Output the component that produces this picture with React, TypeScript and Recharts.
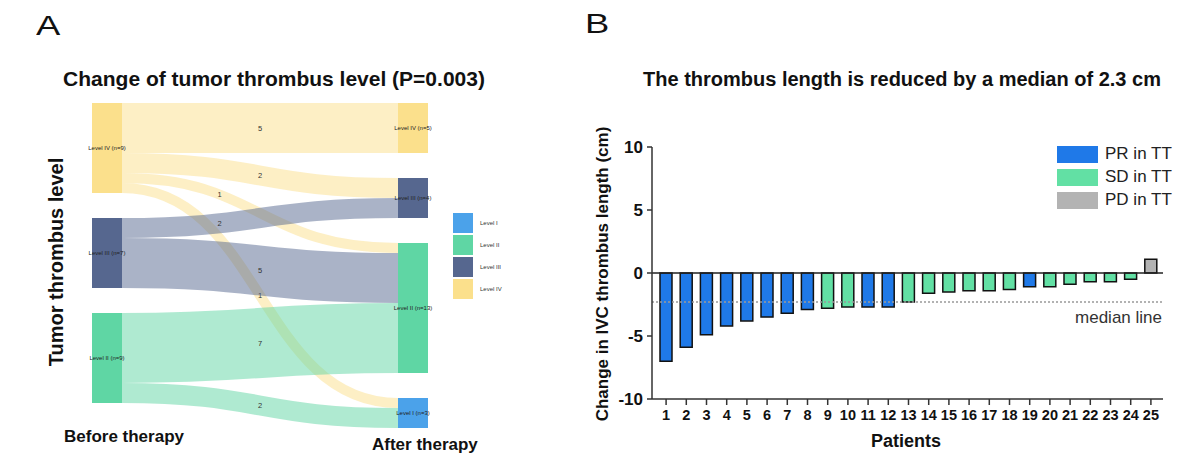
import React from 'react'
import {
  Sankey, BarChart, Bar, XAxis, YAxis, Cell, ReferenceLine,
} from 'recharts'

// panel A: tumour thrombus level before / after therapy
const BEFORE_LEVELS = ['IV', 'III', 'II']
const AFTER_LEVELS = ['IV', 'III', 'II', 'I']
const FLOW_FROM = ['IV', 'IV', 'IV', 'IV', 'III', 'III', 'II', 'II']
const FLOW_TO = ['IV', 'III', 'II', 'I', 'III', 'II', 'II', 'I']
const FLOW_N = [5, 2, 1, 1, 2, 5, 7, 2]
const LEGEND_LEVELS = ['I', 'II', 'III', 'IV']

// panel B: change in IVC thrombus length per patient
const PATIENTS = ['1', '2', '3', '4', '5', '6', '7', '8', '9', '10', '11', '12', '13',
  '14', '15', '16', '17', '18', '19', '20', '21', '22', '23', '24', '25']
const CHANGE = [-7.0, -5.9, -4.9, -4.2, -3.8, -3.5, -3.2, -2.9, -2.8, -2.7, -2.7, -2.7, -2.3,
  -1.6, -1.5, -1.4, -1.4, -1.3, -1.1, -1.1, -0.9, -0.7, -0.7, -0.5, 1.1]
const RESPONSE = ['PR', 'PR', 'PR', 'PR', 'PR', 'PR', 'PR', 'PR', 'SD', 'SD', 'PR', 'PR', 'SD',
  'SD', 'SD', 'SD', 'SD', 'SD', 'PR', 'SD', 'SD', 'SD', 'SD', 'SD', 'PD']
const RESPONSE_KEYS = ['PR', 'SD', 'PD']
const Y_TICKS = [-10, -5, 0, 5, 10]

const LEVEL_COLORS: Record<string, string> = {
  I: '#4ba2ea',
  II: '#5fd6a4',
  III: '#56678f',
  IV: '#fbe08c',
}
const RESPONSE_COLORS: Record<string, string> = {
  PR: '#1f79e8',
  SD: '#62e0a4',
  PD: '#b3b3b3',
}

const FONT = '"Liberation Sans", Arial, sans-serif'

const countFor = (lvl: string, side: string[]) =>
  FLOW_N.reduce((s, n, i) => s + (side[i] === lvl ? n : 0), 0)

const sankeyNodes = [
  ...BEFORE_LEVELS.map((lvl) => ({ name: `Level ${lvl} (n=${countFor(lvl, FLOW_FROM)})`, level: lvl })),
  ...AFTER_LEVELS.map((lvl) => ({ name: `Level ${lvl} (n=${countFor(lvl, FLOW_TO)})`, level: lvl })),
]
const sankeyLinks = FLOW_N.map((n, i) => ({
  source: BEFORE_LEVELS.indexOf(FLOW_FROM[i]),
  target: BEFORE_LEVELS.length + AFTER_LEVELS.indexOf(FLOW_TO[i]),
  value: n,
}))

const barData = PATIENTS.map((p, i) => ({ patient: p, change: CHANGE[i], response: RESPONSE[i] }))
const median = [...CHANGE].sort((a, b) => a - b)[Math.floor(CHANGE.length / 2)]

// where along the curve each flow's count is written
const LABEL_T: Record<number, number> = { 2: 0.313, 4: 0.313 }

const bez = (t: number, a: number, b: number, c: number, d: number) =>
  (1 - t) ** 3 * a + 3 * (1 - t) ** 2 * t * b + 3 * (1 - t) * t * t * c + t ** 3 * d

function FlowLink(props: any) {
  const { sourceX, sourceY, sourceControlX, targetX, targetY, targetControlX, linkWidth, index, payload } = props
  const color = LEVEL_COLORS[payload.source.level]
  const t = LABEL_T[index] ?? 0.5
  const lx = bez(t, sourceX, sourceControlX, targetControlX, targetX)
  const ly = bez(t, sourceY, sourceY, targetY, targetY)
  return (
    <g>
      <path
        d={`M${sourceX},${sourceY} C${sourceControlX},${sourceY} ${targetControlX},${targetY} ${targetX},${targetY}`}
        fill="none"
        stroke={color}
        strokeOpacity={0.5}
        strokeWidth={linkWidth}
      />
      <text x={lx} y={ly} textAnchor="middle" dominantBaseline="central" fontSize={7.5} fill="#333">
        {payload.value}
      </text>
    </g>
  )
}

function LevelNode(props: any) {
  const { x, y, width, height, payload } = props
  return (
    <g>
      <rect x={x} y={y} width={width} height={height} fill={LEVEL_COLORS[payload.level]} />
      <text x={x + width / 2} y={y + height / 2} textAnchor="middle" dominantBaseline="central"
        fontSize={6} fill="#222">
        {payload.name}
      </text>
    </g>
  )
}

const abs = (left: number, top: number, extra: React.CSSProperties = {}): React.CSSProperties => ({
  position: 'absolute', left, top, whiteSpace: 'nowrap', ...extra,
})
const centered = 'translate(-50%, -50%)'
const upright = 'translate(-50%, -50%) rotate(-90deg)'

export default function App() {
  return (
    <div style={{ position: 'absolute', left: 0, top: 0, width: 1200, height: 475, background: '#fff', fontFamily: FONT, color: '#111', overflow: 'hidden' }}>
      {/* panel A */}
      <div style={abs(36, 10, { fontSize: 28, transform: 'scaleX(1.3)', transformOrigin: 'left top' })}>A</div>
      <div style={abs(274, 79, { fontSize: 21, fontWeight: 700, transform: centered })}>
        Change of tumor thrombus level (P=0.003)
      </div>
      <div style={abs(56, 262, { fontSize: 20, fontWeight: 700, transform: upright })}>
        Tumor thrombus level
      </div>
      <div style={abs(64, 427, { fontSize: 17, fontWeight: 700 })}>Before therapy</div>
      <div style={abs(372, 435, { fontSize: 17, fontWeight: 700 })}>After therapy</div>

      <div style={abs(72, 98)}>
        <Sankey
          width={376}
          height={335}
          data={{ nodes: sankeyNodes, links: sankeyLinks }}
          nodeWidth={30}
          nodePadding={25}
          iterations={0}
          margin={{ top: 5, bottom: 5, left: 20, right: 20 }}
          link={<FlowLink />}
          node={<LevelNode />}
        />
      </div>

      <div style={abs(453, 213)}>
        {LEGEND_LEVELS.map((lvl) => (
          <div key={lvl} style={{ display: 'flex', alignItems: 'center', height: 20, marginBottom: 2 }}>
            <div style={{ width: 20, height: 20, background: LEVEL_COLORS[lvl] }} />
            <span style={{ fontSize: 6, marginLeft: 7, color: '#333' }}>Level {lvl}</span>
          </div>
        ))}
      </div>

      {/* panel B */}
      <div style={abs(585, 8, { fontSize: 28, transform: 'scaleX(1.3)', transformOrigin: 'left top' })}>B</div>
      <div style={abs(902, 79, { fontSize: 20, fontWeight: 700, transform: centered })}>
        The thrombus length is reduced by a median of 2.3 cm
      </div>
      <div style={abs(603, 274, { fontSize: 17, fontWeight: 700, transform: upright })}>
        Change in IVC thrombus length (cm)
      </div>
      <div style={abs(906, 441, { fontSize: 18, fontWeight: 700, transform: centered })}>Patients</div>

      <div style={abs(560, 0)}>
        <BarChart width={620} height={475} data={barData} margin={{ top: 147, bottom: 36, left: 52, right: 17 }}>
          <XAxis
            dataKey="patient"
            interval={0}
            height={40}
            padding={{ left: 4, right: 2 }}
            stroke="#333"
            strokeWidth={1.5}
            tickSize={6}
            tickMargin={5}
            tick={{ fill: '#111', fontSize: 14.5, fontWeight: 700, fontFamily: FONT }}
          />
          <YAxis
            domain={[-10, 10]}
            ticks={Y_TICKS}
            width={40}
            stroke="#333"
            strokeWidth={1.5}
            tickSize={5}
            tickMargin={4}
            tick={{ fill: '#111', fontSize: 17, fontWeight: 700, fontFamily: FONT }}
          />
          <ReferenceLine
            y={median}
            stroke="#999"
            strokeDasharray="2 2"
            strokeWidth={1.5}
            label={(p: any) => (
              <text x={p.viewBox.x + p.viewBox.width - 1} y={p.viewBox.y + 16} textAnchor="end"
                dominantBaseline="central" fontSize={17} fill="#333" fontFamily={FONT}>
                median line
              </text>
            )}
          />
          <Bar dataKey="change" barSize={12} stroke="#111" strokeWidth={1.5} isAnimationActive={false}>
            {barData.map((d, i) => (
              <Cell key={i} fill={RESPONSE_COLORS[d.response]} />
            ))}
          </Bar>
          <ReferenceLine y={0} stroke="#222" strokeWidth={1.5} />
        </BarChart>
      </div>

      <div style={abs(1057, 145)}>
        {RESPONSE_KEYS.map((k) => (
          <div key={k} style={{ display: 'flex', alignItems: 'center', height: 18, marginBottom: 5 }}>
            <div style={{ width: 41, height: 17, background: RESPONSE_COLORS[k] }} />
            <span style={{ fontSize: 17, marginLeft: 7, color: '#222' }}>{k} in TT</span>
          </div>
        ))}
      </div>
    </div>
  )
}
